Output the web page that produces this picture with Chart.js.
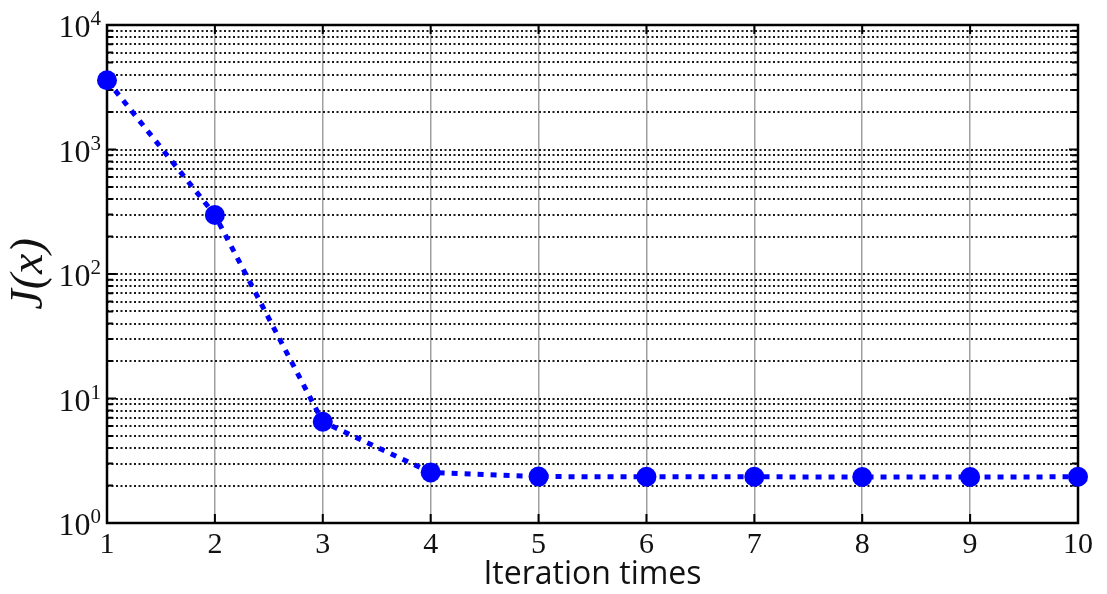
<!DOCTYPE html>
<html>
<head>
<meta charset="utf-8">
<script src="https://cdn.jsdelivr.net/npm/chart.js@4/dist/chart.umd.min.js"></script>
<style>
    html, body { margin: 0; padding: 0; background: #fff; }
    #wrap { width: 1107px; height: 594px; }
</style>
</head>
<body>
<div id="wrap"><canvas id="costChart" width="1107" height="594"></canvas></div>
<script>
// iterations and cost J(x) per iteration
const iterations = ['1', '2', '3', '4', '5', '6', '7', '8', '9', '10'];
const costValues = [3600, 298, 6.5, 2.55, 2.36, 2.35, 2.35, 2.34, 2.34, 2.35];

// decade labels on the log axis, and the minor steps inside each decade
const yDecades = [1, 10, 100, 1000, 10000];
const yExponents = ['0', '1', '2', '3', '4'];
const yMinorSteps = [2, 3, 4, 5, 6, 7, 8, 9];

const serif = '"Liberation Serif", "DejaVu Serif", serif';

function buildLogTicks() {
    const ticks = [];
    yDecades.forEach((d, i) => {
        ticks.push(d);
        if (i < yDecades.length - 1) {
            yMinorSteps.forEach(m => ticks.push(d * m));
        }
    });
    return ticks;
}

// frame box, inward tick marks and power-of-ten labels
const framePlugin = {
    id: 'frame',
    beforeDatasetsDraw(chart) {
        const { ctx, chartArea: a } = chart;
        const x = chart.scales.x;
        const y = chart.scales.y;
        ctx.save();
        ctx.strokeStyle = '#000';
        ctx.lineWidth = 2;
        // x ticks on top and bottom
        iterations.forEach((_, i) => {
            const px = x.getPixelForValue(i);
            ctx.beginPath();
            ctx.moveTo(px, a.bottom);
            ctx.lineTo(px, a.bottom - 9);
            ctx.moveTo(px, a.top);
            ctx.lineTo(px, a.top + 9);
            ctx.stroke();
        });
        // y ticks on left and right
        buildLogTicks().forEach(v => {
            const py = y.getPixelForValue(v);
            const len = yDecades.includes(v) ? 9 : 6;
            ctx.beginPath();
            ctx.moveTo(a.left, py);
            ctx.lineTo(a.left + len, py);
            ctx.moveTo(a.right, py);
            ctx.lineTo(a.right - len, py);
            ctx.stroke();
        });
        ctx.lineWidth = 2.5;
        ctx.strokeRect(a.left, a.top, a.right - a.left, a.bottom - a.top);
        ctx.restore();
    },
    afterDraw(chart) {
        const { ctx, chartArea: a } = chart;
        const y = chart.scales.y;
        ctx.save();
        ctx.fillStyle = '#111';
        ctx.textBaseline = 'alphabetic';
        yDecades.forEach((d, i) => {
            const py = y.getPixelForValue(d);
            ctx.font = '21px ' + serif;
            const expW = ctx.measureText(yExponents[i]).width;
            const expX = a.left - 6 - expW;
            ctx.fillText(yExponents[i], expX, py);
            ctx.font = '32px ' + serif;
            const baseW = ctx.measureText('10').width;
            ctx.fillText('10', expX - baseW, py + 12);
        });
        ctx.restore();
    }
};

const ctx = document.getElementById('costChart');

new Chart(ctx.getContext('2d'), {
    type: 'line',
    data: {
        labels: iterations,
        datasets: [{
            data: costValues,
            borderColor: '#0000ff',
            backgroundColor: '#0000ff',
            borderWidth: 5,
            borderDash: [6, 7],
            borderCapStyle: 'butt',
            pointRadius: 10,
            pointHoverRadius: 10,
            pointBackgroundColor: '#0000ff',
            pointBorderWidth: 0,
            tension: 0,
            fill: false,
            clip: false
        }]
    },
    options: {
        responsive: false,
        animation: false,
        events: [],
        layout: {
            padding: { top: 25, right: 29, left: 0, bottom: 0 }
        },
        plugins: {
            legend: { display: false },
            tooltip: { enabled: false }
        },
        scales: {
            x: {
                type: 'category',
                offset: false,
                grid: {
                    color: '#a0a0a0',
                    lineWidth: 1.5,
                    drawTicks: false
                },
                border: { display: false },
                ticks: {
                    color: '#111',
                    font: { family: serif, size: 30 },
                    padding: 4,
                    maxRotation: 0,
                    autoSkip: false
                },
                title: {
                    display: true,
                    text: 'Iteration times',
                    color: '#111',
                    font: { family: '"Open Sans", "Noto Sans", sans-serif', size: 32 },
                    padding: { top: -10, bottom: 0 }
                },
                afterFit(scale) {
                    scale.height = 71;
                }
            },
            y: {
                type: 'logarithmic',
                min: 1,
                max: 10000,
                afterBuildTicks(scale) {
                    scale.ticks = buildLogTicks().map(v => ({ value: v }));
                },
                grid: {
                    color: (c) => (c.tick && (c.tick.value === 1 || c.tick.value === 10000)) ? 'rgba(0,0,0,0)' : '#1a1a1a',
                    lineWidth: 2,
                    drawTicks: false
                },
                border: { display: false, dash: [2, 2.5] },
                ticks: { display: false },
                title: {
                    display: true,
                    text: 'J(x)',
                    color: '#111',
                    font: { family: serif, size: 46, style: 'italic' },
                    padding: { top: 2, bottom: 0 }
                },
                afterFit(scale) {
                    scale.width = 107;
                }
            }
        }
    },
    plugins: [framePlugin]
});
</script>
</body>
</html>
